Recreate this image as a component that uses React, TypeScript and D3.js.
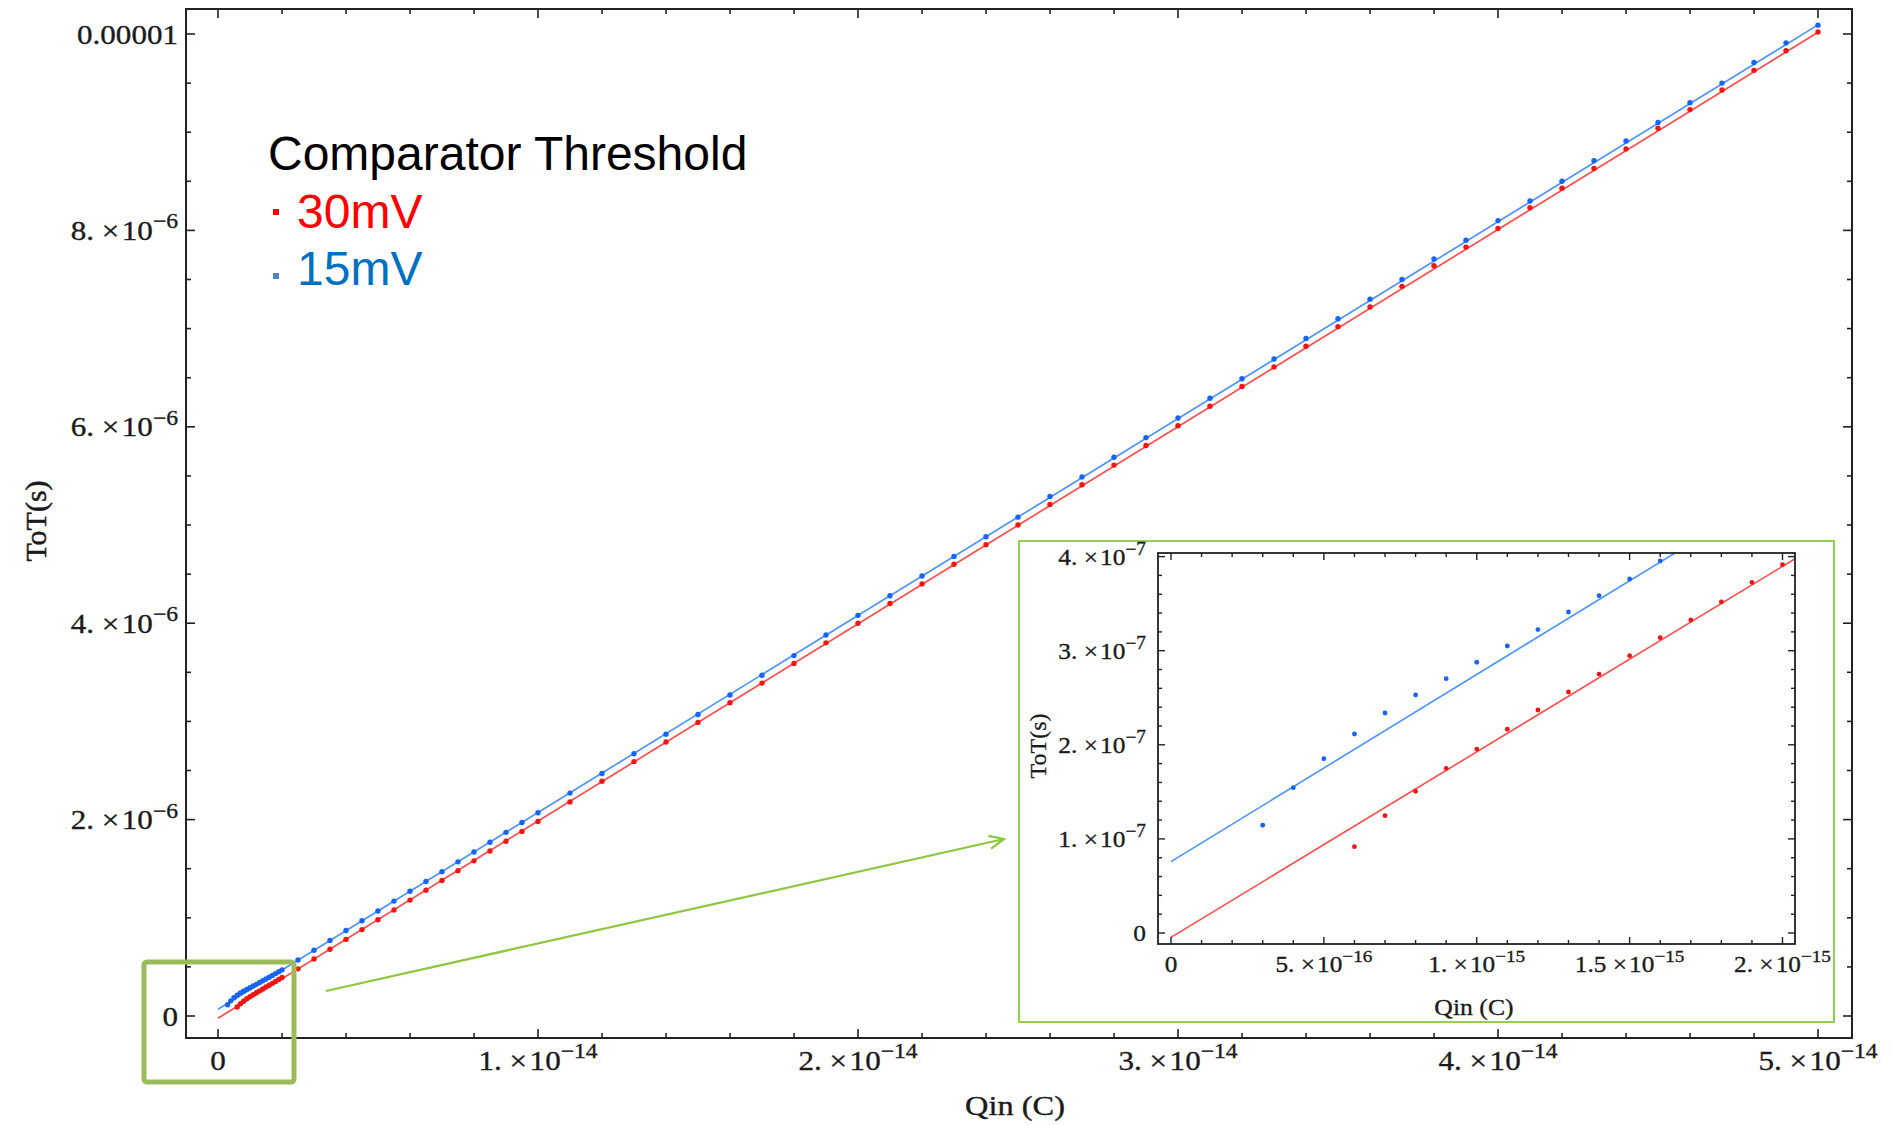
import React from 'react';
import * as d3 from 'd3';

// ---------------- data ----------------
// Low-charge points (shown in inset and main): Qin in fC, ToT in ns
const qLow30 = [0.6, 0.7, 0.8, 0.9, 1.0, 1.1, 1.2, 1.3, 1.4, 1.5, 1.6, 1.7, 1.8, 1.9, 2.0];
const totLow30 = [91.7, 124.7, 150.6, 175.0, 195.5, 216.5, 237.0, 256.1, 275.2, 294.7, 313.8, 332.6, 351.8, 372.7, 391.4];
const qLow15 = [0.3, 0.4, 0.5, 0.6, 0.7, 0.8, 0.9, 1.0, 1.1, 1.2, 1.3, 1.4, 1.5, 1.6, 1.7, 1.8, 1.9, 2.0];
const totLow15 = [114.5, 154.4, 185.2, 211.5, 233.8, 252.9, 270.3, 287.7, 305.0, 322.4, 341.1, 358.5, 376.2, 395.3, 413.0, 432.0, 451.0, 470.0];

// High-charge points: Qin in fC, ToT in µs
const qHigh = [2.5, 3, 3.5, 4, 4.5, 5, 5.5, 6, 6.5, 7, 7.5, 8, 8.5, 9, 9.5, 10,
  11, 12, 13, 14, 15, 16, 17, 18, 19, 20, 21, 22, 23, 24, 25, 26, 27, 28, 29, 30,
  31, 32, 33, 34, 35, 36, 37, 38, 39, 40, 41, 42, 43, 44, 45, 46, 47, 48, 49, 50];
const totHigh30 = [0.48, 0.58, 0.68, 0.78, 0.88, 0.98, 1.08, 1.18, 1.28, 1.38, 1.48, 1.58, 1.68, 1.78, 1.88, 1.98,
  2.18, 2.39, 2.59, 2.79, 2.99, 3.19, 3.39, 3.59, 3.80, 4.00, 4.20, 4.40, 4.60, 4.80, 5.00, 5.21, 5.41, 5.61, 5.81, 6.01,
  6.21, 6.41, 6.61, 6.82, 7.02, 7.22, 7.43, 7.64, 7.83, 8.02, 8.23, 8.43, 8.63, 8.83, 9.04, 9.23, 9.43, 9.63, 9.83, 10.02];
const totHigh15 = [0.57, 0.67, 0.77, 0.87, 0.97, 1.07, 1.17, 1.27, 1.37, 1.47, 1.57, 1.67, 1.77, 1.87, 1.97, 2.07,
  2.27, 2.47, 2.67, 2.87, 3.07, 3.27, 3.47, 3.67, 3.88, 4.08, 4.28, 4.48, 4.68, 4.88, 5.08, 5.29, 5.49, 5.69, 5.89, 6.09,
  6.29, 6.49, 6.69, 6.90, 7.10, 7.30, 7.50, 7.71, 7.90, 8.10, 8.30, 8.50, 8.71, 8.91, 9.10, 9.30, 9.50, 9.71, 9.91, 10.09];

// Linear fits: [intercept ns, slope ns/fC]
const fitMain30 = [-23, 200.8];
const fitMain15 = [68, 200.5];
const fitInset30 = [-4.6, 197.1];
const fitInset15 = [75.8, 199.0];

// tick labels
const mainXLabels = [['0', null], ['1.', '−14'], ['2.', '−14'], ['3.', '−14'], ['4.', '−14'], ['5.', '−14']];
const mainYLabels = [['0', null], ['2.', '−6'], ['4.', '−6'], ['6.', '−6'], ['8.', '−6'], ['0.00001', null]];
const insetXLabels = [['0', null], ['5.', '−16'], ['1.', '−15'], ['1.5', '−15'], ['2.', '−15']];
const insetYLabels = [['0', null], ['1.', '−7'], ['2.', '−7'], ['3.', '−7'], ['4.', '−7']];

const legendTitle = 'Comparator Threshold';
const legendItems = ['30mV', '15mV'];

// ---------------- styling ----------------
const SERIF = "'Liberation Serif','Times New Roman',Times,serif";
const SANS = "'Liberation Sans',Arial,Helvetica,sans-serif";
const RED_PT = '#ee1515';
const BLUE_PT = '#1763f2';
const RED_LN = '#ff4d4d';
const BLUE_LN = '#4d92ff';
const AXIS = '#222';
const TXT = '#1b1b1b';

const fC = 1e-15, ns = 1e-9, us = 1e-6;

function Sci({ x, y, mant, exp, size, sx, anchor }: any) {
  return (
    <text transform={`translate(${x},${y}) scale(${sx},1)`} textAnchor={anchor}
      fontFamily={SERIF} fontSize={size} fill={TXT} stroke={TXT} strokeWidth={0.35}>
      {exp == null ? mant : (
        <>
          {mant + ' ×\u200a10'}
          <tspan dy={-size * 0.42} fontSize={size * 0.76}>{exp}</tspan>
        </>
      )}
    </text>
  );
}

export default function App() {
  // main plot geometry
  const mx = d3.scaleLinear().domain([0, 5e-14]).range([218, 1818]);
  const my = d3.scaleLinear().domain([0, 1e-5]).range([1016, 34]);
  const mf = { l: 186, r: 1852, t: 9, b: 1038 };

  // inset geometry
  const ix = d3.scaleLinear().domain([0, 2e-15]).range([1171, 1782.5]);
  const iy = d3.scaleLinear().domain([0, 4e-7]).range([933, 556.6]);
  const inf = { l: 1158, r: 1795, t: 553, b: 944 };

  const mxTicks = d3.range(0, 26).map(i => i * 2e-15);
  const myTicks = d3.range(0, 21).map(i => i * 5e-7);
  const ixTicks = d3.range(0, 21).map(i => i * 1e-16);
  const iyTicks = d3.range(0, 21).map(i => i * 2e-8);

  const low30 = qLow30.map((q, i) => [q * fC, totLow30[i] * ns]);
  const low15 = qLow15.map((q, i) => [q * fC, totLow15[i] * ns]);
  const high30 = qHigh.map((q, i) => [q * fC, totHigh30[i] * us]);
  const high15 = qHigh.map((q, i) => [q * fC, totHigh15[i] * us]);
  const main30 = [...low30, ...high30];
  const main15 = [...low15, ...high15];

  const fitLine = (fit: number[], q0: number, q1: number) => [
    [q0 * fC, (fit[0] + fit[1] * q0) * ns],
    [q1 * fC, (fit[0] + fit[1] * q1) * ns],
  ];
  const mLine = d3.line<any>().x(d => mx(d[0])).y(d => my(d[1]));
  const iLine = d3.line<any>().x(d => ix(d[0])).y(d => iy(d[1]));

  // arrow
  const a0 = [326, 991], a1 = [1004, 839];
  const ang = Math.atan2(a1[1] - a0[1], a1[0] - a0[0]);
  const ah = 16, aw = 0.42;
  const arrowHead = [
    [a1[0] - ah * Math.cos(ang - aw), a1[1] - ah * Math.sin(ang - aw)],
    a1,
    [a1[0] - ah * Math.cos(ang + aw), a1[1] - ah * Math.sin(ang + aw)],
  ];

  return (
    <svg width={1893} height={1125} style={{ position: 'absolute', left: 0, top: 0, background: '#fff' }}>
      <defs>
        <clipPath id="mainClip"><rect x={mf.l} y={mf.t} width={mf.r - mf.l} height={mf.b - mf.t} /></clipPath>
        <clipPath id="insetClip"><rect x={inf.l} y={inf.t} width={inf.r - inf.l} height={inf.b - inf.t} /></clipPath>
      </defs>
      <rect x={0} y={0} width={1893} height={1125} fill="#fff" />

      {/* ---------- main plot ---------- */}
      <g clipPath="url(#mainClip)">
        <path d={mLine(fitLine(fitMain30, 0, 50) as any) || ''} stroke={RED_LN} strokeWidth={1.7} fill="none" />
        <path d={mLine(fitLine(fitMain15, 0, 50) as any) || ''} stroke={BLUE_LN} strokeWidth={1.7} fill="none" />
        {main30.map((d, i) => <circle key={'r' + i} cx={mx(d[0])} cy={my(d[1])} r={2.7} fill={RED_PT} />)}
        {main15.map((d, i) => <circle key={'b' + i} cx={mx(d[0])} cy={my(d[1])} r={2.7} fill={BLUE_PT} />)}
      </g>
      <rect x={mf.l} y={mf.t} width={mf.r - mf.l} height={mf.b - mf.t} fill="none" stroke={AXIS} strokeWidth={2} />
      {mxTicks.map((t, i) => {
        const len = i % 5 === 0 ? 9 : 5;
        const x = mx(t);
        return (
          <g key={'mxt' + i}>
            <line x1={x} x2={x} y1={mf.b} y2={mf.b - len} stroke={AXIS} strokeWidth={1.6} />
            <line x1={x} x2={x} y1={mf.t} y2={mf.t + len} stroke={AXIS} strokeWidth={1.6} />
          </g>
        );
      })}
      {myTicks.map((t, i) => {
        const len = i % 4 === 0 ? 9 : 5;
        const y = my(t);
        return (
          <g key={'myt' + i}>
            <line x1={mf.l} x2={mf.l + len} y1={y} y2={y} stroke={AXIS} strokeWidth={1.6} />
            <line x1={mf.r} x2={mf.r - len} y1={y} y2={y} stroke={AXIS} strokeWidth={1.6} />
          </g>
        );
      })}
      {mainXLabels.map((l, i) => (
        <Sci key={'mxl' + i} x={mx(i * 1e-14)} y={1070} mant={l[0]} exp={l[1]} size={27.5} sx={1.13} anchor="middle" />
      ))}
      {mainYLabels.map((l, i) => (
        <Sci key={'myl' + i} x={178} y={my(i * 2e-6) + 9.5} mant={l[0]} exp={l[1]} size={27.5} sx={1.13} anchor="end" />
      ))}
      <text transform="translate(1015,1115) scale(1.2,1)" textAnchor="middle" fontFamily={SERIF} fontSize={27} fill={TXT} stroke={TXT} strokeWidth={0.35}>Qin (C)</text>
      <text transform="translate(46,521) rotate(-90)" textAnchor="middle" fontFamily={SERIF} fontSize={30} fill={TXT} stroke={TXT} strokeWidth={0.5}>ToT(s)</text>

      {/* ---------- legend ---------- */}
      <text x={268} y={170} fontFamily={SANS} fontSize={48} fill="#000">{legendTitle}</text>
      <rect x={273} y={209} width={6} height={6} fill="#ff0000" />
      <text x={297} y={228} fontFamily={SANS} fontSize={48} fill="#ff0000">{legendItems[0]}</text>
      <rect x={273} y={273} width={6} height={6} fill="#4f81c8" />
      <text x={297} y={285} fontFamily={SANS} fontSize={48} fill="#0070c0">{legendItems[1]}</text>

      {/* ---------- zoom box + arrow ---------- */}
      <rect x={144} y={962} width={150} height={120} rx={3} fill="none" stroke="#9bbb59" strokeWidth={5} />
      <line x1={a0[0]} y1={a0[1]} x2={a1[0]} y2={a1[1]} stroke="#8dc63f" strokeWidth={2.2} />
      <polyline points={arrowHead.map(p => p.join(',')).join(' ')} fill="none" stroke="#8dc63f" strokeWidth={2.2} />

      {/* ---------- inset ---------- */}
      <rect x={1019} y={541} width={815} height={481} fill="#fff" stroke="#92d050" strokeWidth={2} />
      <g clipPath="url(#insetClip)">
        <path d={iLine(fitLine(fitInset30, 0, 2.1) as any) || ''} stroke={RED_LN} strokeWidth={1.6} fill="none" />
        <path d={iLine(fitLine(fitInset15, 0, 2.1) as any) || ''} stroke={BLUE_LN} strokeWidth={1.6} fill="none" />
        {low30.map((d, i) => <circle key={'ir' + i} cx={ix(d[0])} cy={iy(d[1])} r={2.4} fill={RED_PT} />)}
        {low15.map((d, i) => <circle key={'ib' + i} cx={ix(d[0])} cy={iy(d[1])} r={2.4} fill={BLUE_PT} />)}
      </g>
      <rect x={inf.l} y={inf.t} width={inf.r - inf.l} height={inf.b - inf.t} fill="none" stroke={AXIS} strokeWidth={1.8} />
      {ixTicks.map((t, i) => {
        const len = i % 5 === 0 ? 7 : 4;
        const x = ix(t);
        return (
          <g key={'ixt' + i}>
            <line x1={x} x2={x} y1={inf.b} y2={inf.b - len} stroke={AXIS} strokeWidth={1.4} />
            <line x1={x} x2={x} y1={inf.t} y2={inf.t + len} stroke={AXIS} strokeWidth={1.4} />
          </g>
        );
      })}
      {iyTicks.map((t, i) => {
        const len = i % 5 === 0 ? 7 : 4;
        const y = iy(t);
        return (
          <g key={'iyt' + i}>
            <line x1={inf.l} x2={inf.l + len} y1={y} y2={y} stroke={AXIS} strokeWidth={1.4} />
            <line x1={inf.r} x2={inf.r - len} y1={y} y2={y} stroke={AXIS} strokeWidth={1.4} />
          </g>
        );
      })}
      {insetXLabels.map((l, i) => (
        <Sci key={'ixl' + i} x={ix(i * 5e-16)} y={972} mant={l[0]} exp={l[1]} size={23} sx={1.1} anchor="middle" />
      ))}
      {insetYLabels.map((l, i) => (
        <Sci key={'iyl' + i} x={1146} y={iy(i * 1e-7) + 8} mant={l[0]} exp={l[1]} size={23.5} sx={1.08} anchor="end" />
      ))}
      <text transform="translate(1474,1015) scale(1.12,1)" textAnchor="middle" fontFamily={SERIF} fontSize={23} fill={TXT} stroke={TXT} strokeWidth={0.3}>Qin (C)</text>
      <text transform="translate(1046,746) rotate(-90)" textAnchor="middle" fontFamily={SERIF} fontSize={24} fill={TXT} stroke={TXT} strokeWidth={0.3}>ToT(s)</text>
    </svg>
  );
}
